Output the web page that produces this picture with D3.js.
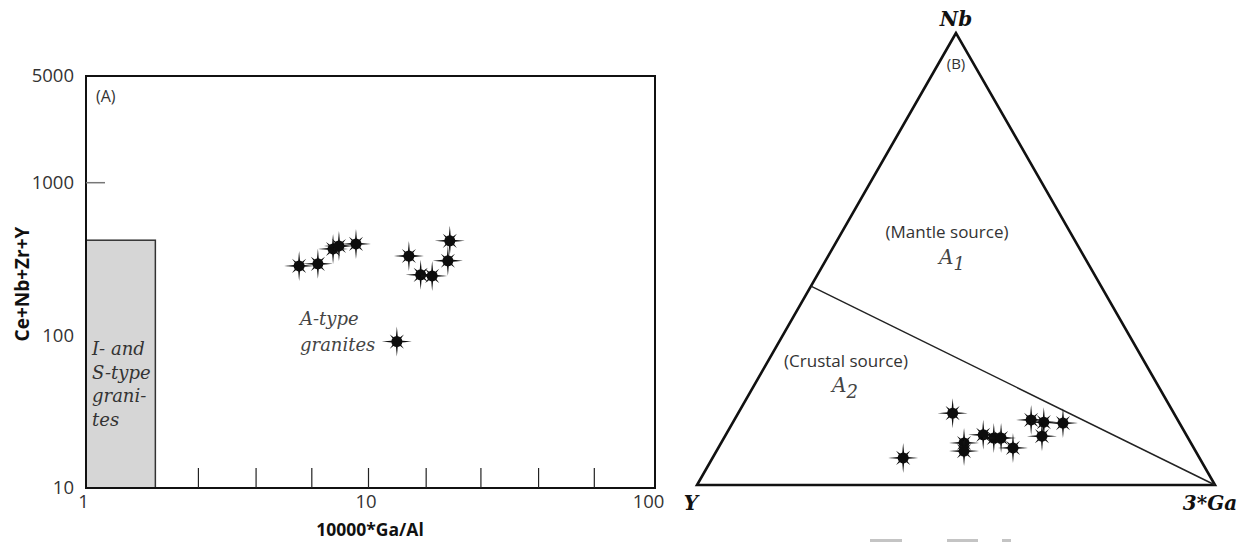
<!DOCTYPE html>
<html>
<head>
<meta charset="utf-8">
<script src="https://cdn.jsdelivr.net/npm/d3@7"></script>
<style>
  body { margin: 0; background: #fff; }
  svg { display: block; }
</style>
</head>
<body>
<script>
// ---- data: (A) Whalen plot ----
var gaAl = [5.68, 6.62, 7.49, 7.86, 9.03, 13.9, 15.3, 16.8, 19.4, 19.1, 12.6];
var sumHfse = [285, 294, 368, 385, 397, 331, 249, 245, 416, 308, 91];
var xTickLabels = [1, 10, 100];
var yTickLabels = [10, 100, 1000, 5000];
var xMinorTicks = [2.5, 4, 6.3, 10, 16, 25, 40, 63];
var isFieldTop = 420, isFieldRight = 1.76;

// ---- data: (B) Eby ternary, fractions Nb / Y / 3*Ga ----
var nbFrac = [0.060, 0.159, 0.093, 0.075, 0.111, 0.104, 0.104, 0.082, 0.144, 0.139, 0.137, 0.108];
var yFrac  = [0.572, 0.427, 0.438, 0.447, 0.392, 0.375, 0.361, 0.349, 0.283, 0.261, 0.225, 0.280];
var gaFrac = [0.368, 0.414, 0.469, 0.478, 0.497, 0.521, 0.535, 0.569, 0.573, 0.600, 0.638, 0.612];
var a1a2Boundary = 0.44; // Nb fraction on the Y-Nb edge

var W = 1247, H = 542;
var svg = d3.select('body').append('svg').attr('width', W).attr('height', H);

var sans = "'Open Sans', 'Noto Sans', sans-serif";
var serif = "'DejaVu Serif', serif";

// star marker
function starPath(rL, rD, rI) {
  var pts = [];
  for (var k = 0; k < 16; k++) {
    var ang = k * Math.PI / 8 - Math.PI / 2;
    var r = k % 2 ? rI : (k % 4 === 0 ? rL : rD);
    pts.push([r * Math.cos(ang), r * Math.sin(ang)]);
  }
  return d3.line()(pts) + 'Z';
}
var star = starPath(15, 10, 3);

var defs = svg.append('defs');
defs.append('filter').attr('id', 'soft')
  .append('feGaussianBlur').attr('stdDeviation', 0.6);

function drawStars(g, data) {
  var s = g.selectAll('.star').data(data).enter().append('g')
    .attr('class', 'star')
    .attr('transform', function(d) { return 'translate(' + d[0] + ',' + d[1] + ')'; })
    .attr('filter', 'url(#soft)');
  s.append('path').attr('d', star).style('fill', '#111');
  s.append('circle').attr('r', 5.5).style('fill', '#111');
}

// ================= (A) =================
var x = d3.scaleLog().domain([1, 100]).range([86, 651]);
var y = d3.scaleLog().domain([10, 5000]).range([488, 76]);
var frameRight = x(100) + 4;

var gA = svg.append('g');

// I- and S-type field
gA.append('rect')
  .attr('x', x(1)).attr('y', y(isFieldTop))
  .attr('width', x(isFieldRight) - x(1)).attr('height', y(10) - y(isFieldTop))
  .style('fill', '#d6d6d6').style('stroke', '#333').style('stroke-width', 1.5);

var isLines = ['I- and', 'S-type', 'grani-', 'tes'];
gA.append('text')
  .attr('x', x(1) + 6).attr('y', 355)
  .style('font-family', serif).style('font-style', 'italic')
  .style('font-size', '18px').style('fill', '#333')
  .selectAll('tspan').data(isLines).enter().append('tspan')
  .attr('x', x(1) + 6).attr('dy', function(d, i) { return i ? 23.5 : 0; })
  .text(function(d) { return d; });

// frame
gA.append('rect')
  .attr('x', x(1)).attr('y', y(5000))
  .attr('width', frameRight - x(1)).attr('height', y(10) - y(5000))
  .style('fill', 'none').style('stroke', '#111').style('stroke-width', 2);

// minor ticks on bottom
gA.selectAll('.mt').data(xMinorTicks).enter().append('line')
  .attr('x1', function(d) { return x(d); }).attr('x2', function(d) { return x(d); })
  .attr('y1', y(10)).attr('y2', y(10) - 20)
  .style('stroke', '#222').style('stroke-width', 1.2);

// tick at 1000
gA.append('line')
  .attr('x1', x(1)).attr('x2', x(1) + 19)
  .attr('y1', y(1000)).attr('y2', y(1000))
  .style('stroke', '#777').style('stroke-width', 1.5);

var xAxis = gA.append('g').attr('transform', 'translate(-3,' + y(10) + ')')
  .call(d3.axisBottom(x).tickValues(xTickLabels).tickSize(0).tickPadding(7).tickFormat(d3.format('d')));
var yAxis = gA.append('g').attr('transform', 'translate(' + x(1) + ',0)')
  .call(d3.axisLeft(y).tickValues(yTickLabels).tickSize(0).tickPadding(12).tickFormat(d3.format('d')));
[xAxis, yAxis].forEach(function(a) {
  a.select('.domain').remove();
  a.selectAll('text').style('font-family', sans).style('font-size', '18.5px').style('fill', '#333');
});

gA.append('text').attr('x', 96).attr('y', 102).text('(A)')
  .style('font-family', sans).style('font-size', '16px').style('fill', '#333');

gA.append('text').attr('x', 370).attr('y', 536).attr('text-anchor', 'middle')
  .text('10000*Ga/Al')
  .style('font-family', sans).style('font-weight', 'bold').style('font-size', '17.5px').style('fill', '#111');
gA.append('text').attr('transform', 'translate(29,284) rotate(-90)').attr('text-anchor', 'middle')
  .text('Ce+Nb+Zr+Y')
  .style('font-family', sans).style('font-weight', 'bold').style('font-size', '19px').style('fill', '#111');

var aLbl = gA.append('text')
  .style('font-family', serif).style('font-style', 'italic')
  .style('font-size', '18px').style('fill', '#444');
aLbl.append('tspan').attr('x', 300).attr('y', 325).text('A-type');
aLbl.append('tspan').attr('x', 300).attr('y', 351).text('granites');

drawStars(gA, gaAl.map(function(d, i) { return [x(d), y(sumHfse[i])]; }));

// ================= (B) =================
var tx = d3.scaleLinear().domain([0, 1]).range([697, 1215]);
var ty = d3.scaleLinear().domain([0, 1]).range([485, 33]);
function tern(nb, yy, ga) {
  var s = nb + yy + ga;
  return [tx((ga + nb / 2) / s), ty(nb / s)];
}

var gB = svg.append('g');
var vNb = tern(1, 0, 0), vY = tern(0, 1, 0), vGa = tern(0, 0, 1);

gB.append('path')
  .attr('d', d3.line()([vNb, vY, vGa]) + 'Z')
  .style('fill', 'none').style('stroke', '#111').style('stroke-width', 2.6)
  .style('stroke-linejoin', 'miter');

gB.append('line')
  .attr('x1', tern(a1a2Boundary, 1 - a1a2Boundary, 0)[0])
  .attr('y1', tern(a1a2Boundary, 1 - a1a2Boundary, 0)[1])
  .attr('x2', vGa[0]).attr('y2', vGa[1])
  .style('stroke', '#222').style('stroke-width', 1.5);

function vertexLabel(txt, px, py, anchor) {
  gB.append('text').attr('x', px).attr('y', py).attr('text-anchor', anchor).text(txt)
    .style('font-family', serif).style('font-weight', 'bold').style('font-style', 'italic')
    .style('font-size', '20px').style('fill', '#111');
}
vertexLabel('Nb', vNb[0], vNb[1] - 7, 'middle');
vertexLabel('Y', vY[0] - 6, vY[1] + 25, 'middle');
vertexLabel('3*Ga', vGa[0] - 5, vGa[1] + 25, 'middle');

gB.append('text').attr('x', vNb[0]).attr('y', 69).attr('text-anchor', 'middle').text('(B)')
  .style('font-family', sans).style('font-size', '15px').style('fill', '#333');

function regionLabel(txt, sub, cx, cy, ax, ay) {
  gB.append('text').attr('x', cx).attr('y', cy).attr('text-anchor', 'middle').text(txt)
    .style('font-family', sans).style('font-size', '17px').style('fill', '#333');
  var t = gB.append('text').attr('x', ax).attr('y', ay)
    .style('font-family', serif).style('font-style', 'italic').style('font-size', '20px').style('fill', '#444');
  t.append('tspan').text('A');
  t.append('tspan').attr('dy', 6).style('font-size', '18px').text(sub);
}
regionLabel('(Mantle source)', '1', 947, 238, 939, 264);
regionLabel('(Crustal source)', '2', 846, 367, 832, 392);

drawStars(gB, nbFrac.map(function(d, i) { return tern(d, yFrac[i], gaFrac[i]); }));

// faint cut-off marks along the bottom edge
var fadeMarks = [[870, 902], [947, 978], [1002, 1011]];
svg.selectAll('.fade').data(fadeMarks).enter().append('rect')
  .attr('x', function(d) { return d[0]; }).attr('width', function(d) { return d[1] - d[0]; })
  .attr('y', H - 3).attr('height', 3).style('fill', '#c4c4c4');
</script>
</body>
</html>
